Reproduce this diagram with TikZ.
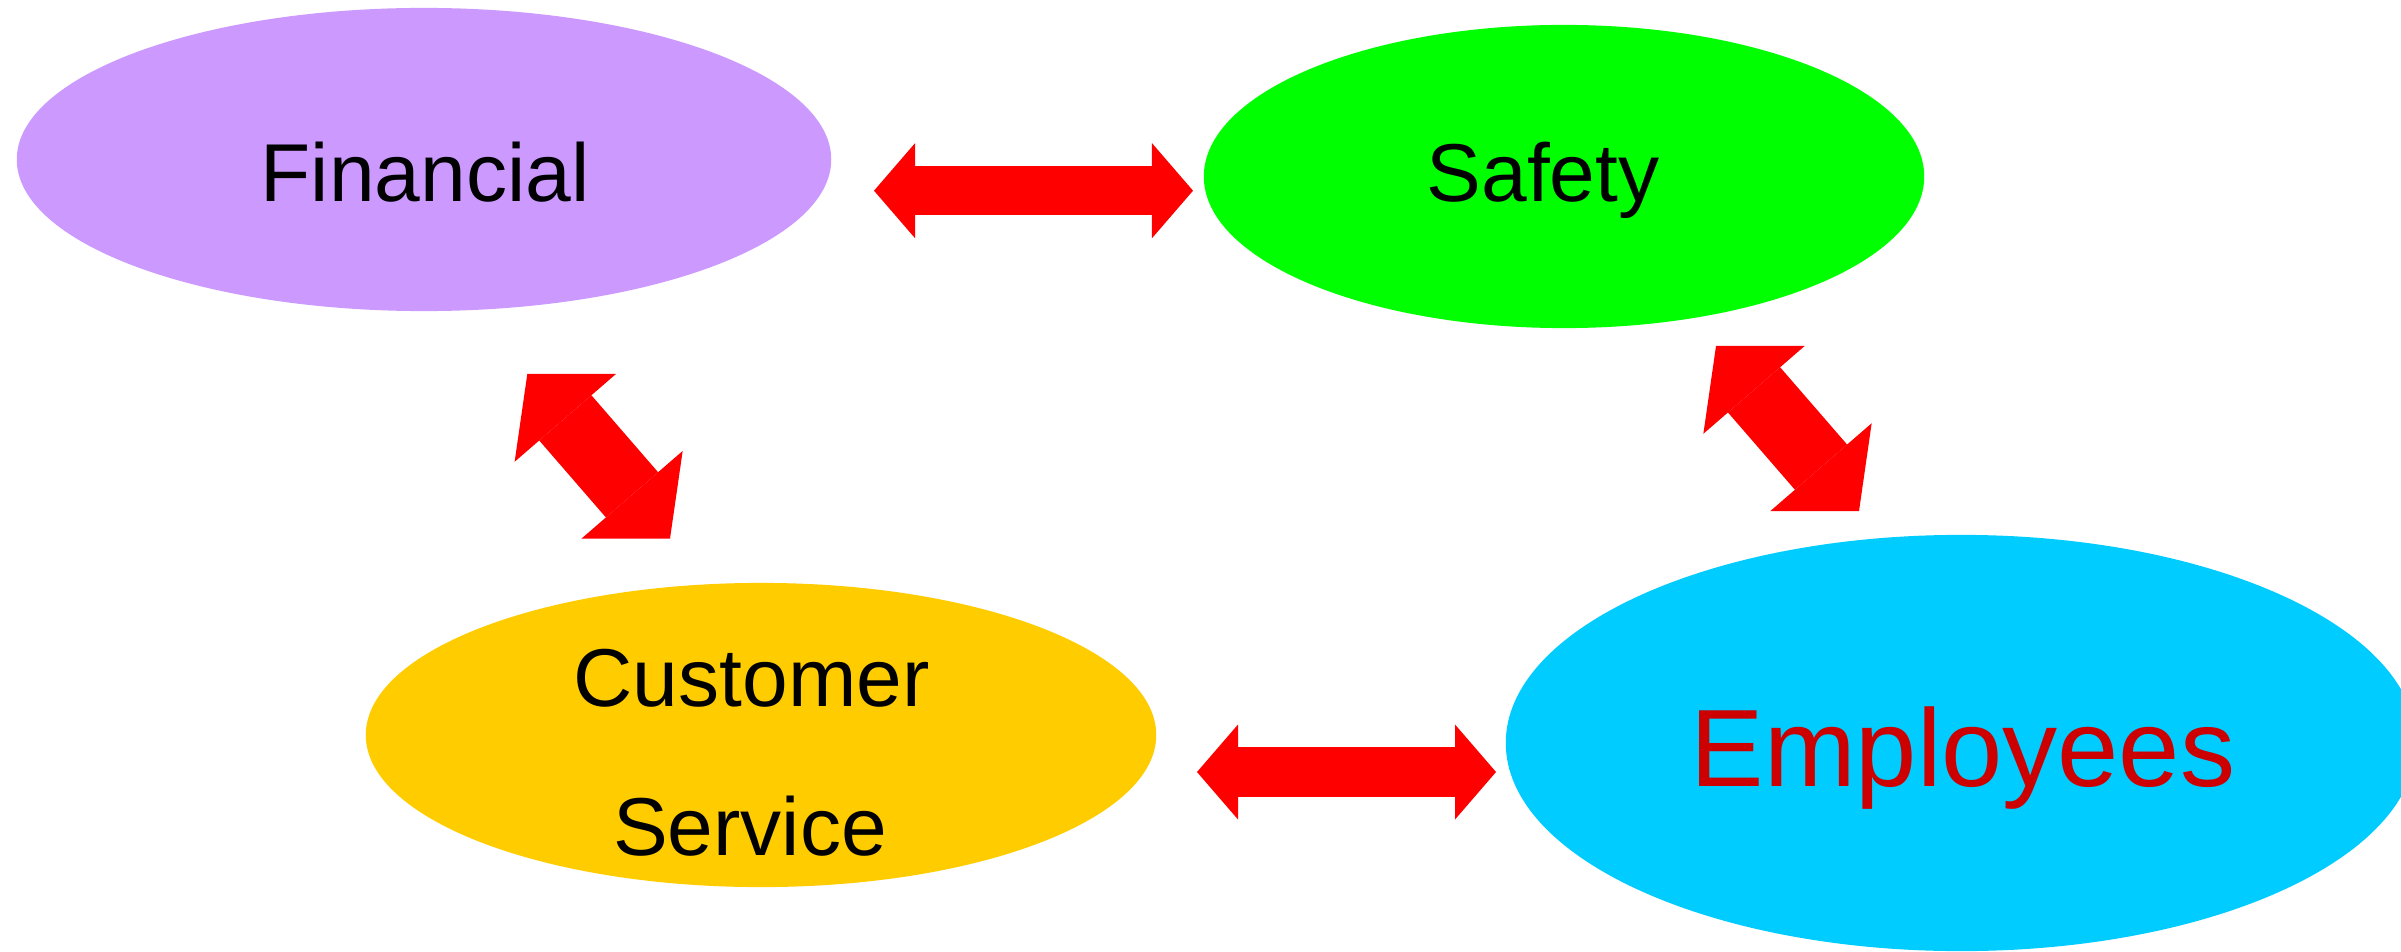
\documentclass[tikz,border=0pt]{standalone}
\usepackage{fontspec}
\setmainfont{Liberation Sans}
\usetikzlibrary{shapes.geometric,arrows.meta}
\definecolor{finpurple}{HTML}{CC99FF}
\definecolor{safgreen}{HTML}{00FF00}
\definecolor{custyellow}{HTML}{FFCC00}
\definecolor{empcyan}{HTML}{00CCFF}
\definecolor{linkred}{HTML}{FF0000}
\definecolor{emptext}{HTML}{CC0000}
\begin{document}
\begin{tikzpicture}[x=0.01cm,y=-0.01cm,
  blob/.style={ellipse,inner sep=0pt,draw=none},
  lbl/.style={anchor=base,inner sep=0pt,text=black,font=\fontsize{23.35pt}{28pt}\selectfont},
  hlink/.style={draw=linkred,line width=0.49cm,
    >={Triangle[length=0.41cm,width=0.95cm,line width=0pt]},<->},
  dlink/.style={draw=linkred,line width=0.69cm,
    >={Triangle[length=0.58cm,width=1.34cm,line width=0pt]},<->}
]
\useasboundingbox (0,0) rectangle (2401,952);
\fill[white] (0,0) rectangle (2401,952);
% ellipses
\node[blob,fill=finpurple,minimum width=8.14cm,minimum height=3.03cm] (fin) at (424,159.5) {};
\node[blob,fill=safgreen,minimum width=7.20cm,minimum height=3.03cm] (saf) at (1564,176.5) {};
\node[blob,fill=custyellow,minimum width=7.90cm,minimum height=3.04cm] (cus) at (761,735) {};
\node[blob,fill=empcyan,minimum width=9.10cm,minimum height=4.16cm] (emp) at (1961,743) {};
% labels
\node[lbl] (fint) at (425,202) {Financial};
\node[lbl] (saft) at (1543,202) {Safety};
\node[lbl] (cust1) at (751.5,706) {Customer};
\node[lbl] (cust2) at (750,855) {Service};
\node[lbl,text=emptext,font=\fontsize{31.3pt}{36pt}\selectfont] (empt) at (1963,786.7) {Employees};
% connector ends
\coordinate (fs1) at (874,190.7);
\coordinate (fs2) at (1193,190.7);
\coordinate (ce1) at (1197,772);
\coordinate (ce2) at (1496,772);
\coordinate (fc1) at (527.3,374);
\coordinate (fc2) at (670,538.7);
\coordinate (se1) at (1716,346);
\coordinate (se2) at (1859,511);
% connectors
\draw[hlink] (fs1) -- (fs2);
\draw[hlink] (ce1) -- (ce2);
\draw[dlink] (fc1) -- (fc2);
\draw[dlink] (se1) -- (se2);
\end{tikzpicture}
\end{document}
